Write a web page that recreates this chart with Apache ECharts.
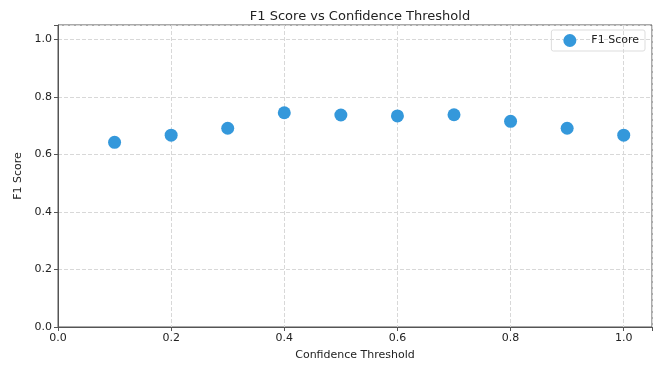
<!DOCTYPE html>
<html><head><meta charset="utf-8">
<script src="https://cdn.jsdelivr.net/npm/echarts@6/dist/echarts.min.js"></script>
<style>html,body{margin:0;padding:0;background:#fff}#c{width:662px;height:368px}</style>
</head><body><div id="c"></div>
<script>
const thresholds = [0.1,0.2,0.3,0.4,0.5,0.6,0.7,0.8,0.9,1.0];
const f1Scores = [0.642,0.667,0.691,0.745,0.737,0.734,0.738,0.715,0.691,0.667];
const tickValues = [0,0.2,0.4,0.6,0.8,1.0];
const font = 'DejaVu Sans';
const chart = echarts.init(document.getElementById('c'));
function fmt(v){
  const ok = tickValues.some(t => Math.abs(t - v) < 1e-6);
  return ok ? v.toFixed(1) : '';
}
chart.setOption({
  animation:false,
  textStyle:{fontFamily:font},
  title:{text:'F1 Score vs Confidence Threshold', left:355, top:5, textAlign:'center',
    textStyle:{fontFamily:font, fontSize:13, fontWeight:'normal', color:'#222'}},
  legend:{right:17, top:30, itemWidth:13, itemHeight:13, icon:'circle',
    borderColor:'#ddd', borderWidth:1, borderRadius:2, padding:[4,6,4,12], itemGap:8,
    textStyle:{fontFamily:font, fontSize:11, color:'#222', padding:[0,0,0,10]},
    data:['F1 Score']},
  grid:{left:58, right:10, top:25, bottom:41, show:true, borderColor:'#555', borderWidth:1, containLabel:false},
  xAxis:{type:'value', min:0, max:1.05, interval:0.2,
    name:'Confidence Threshold', nameLocation:'middle', nameGap:23,
    nameTextStyle:{fontFamily:font, fontSize:11, color:'#222'},
    axisLine:{lineStyle:{color:'#555'}},
    axisTick:{show:true, length:4, lineStyle:{color:'#555'}},
    axisLabel:{formatter:fmt, fontFamily:font, fontSize:11, color:'#222', margin:6},
    splitLine:{show:true, lineStyle:{type:'dashed', color:'#d8d8d8'}}},
  yAxis:{type:'value', min:0, max:1.05, interval:0.2,
    name:'F1 Score', nameLocation:'middle', nameGap:34,
    nameTextStyle:{fontFamily:font, fontSize:11, color:'#222'},
    axisLine:{show:true, lineStyle:{color:'#555'}},
    axisTick:{show:true, length:4, lineStyle:{color:'#555'}},
    axisLabel:{formatter:fmt, fontFamily:font, fontSize:11, color:'#222', margin:6},
    splitLine:{show:true, lineStyle:{type:'dashed', color:'#d8d8d8'}}},
  series:[{name:'F1 Score', type:'scatter', symbolSize:13,
    itemStyle:{color:'#3498db', opacity:1},
    data: thresholds.map((t,i)=>[t, f1Scores[i]])}]
});
</script></body></html>
